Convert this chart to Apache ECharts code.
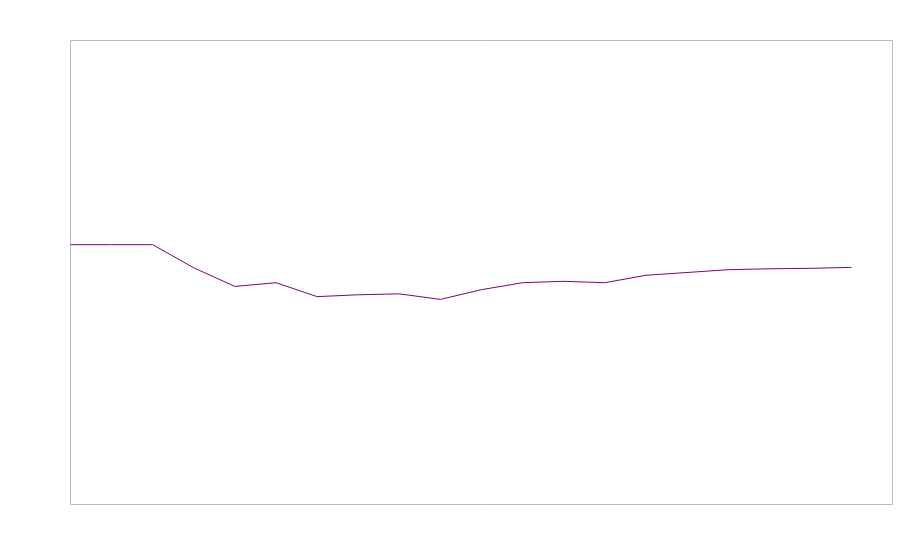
<!DOCTYPE html>
<html>
<head>
<meta charset="utf-8">
<script src="https://cdn.jsdelivr.net/npm/echarts@6/dist/echarts.min.js"></script>
<style>html,body{margin:0;padding:0;background:#fff}#c{width:900px;height:560px}</style>
</head>
<body>
<div id="c"></div>
<script>
const categories = ['1','2','3','4','5','6','7','8','9','10','11','12','13','14','15','16','17','18','19','20','21'];
const values = [56.0, 56.0, 56.0, 51.0, 47.0, 47.8, 44.8, 45.2, 45.4, 44.2, 46.3, 47.8, 48.1, 47.8, 49.4, 50.0, 50.6, 50.8, 50.9, 51.1];
const yMin = 0;
const yMax = 100;

const chart = echarts.init(document.getElementById('c'), null, {renderer: 'canvas'});
chart.setOption({
  animation: false,
  backgroundColor: '#ffffff',
  grid: {left: 70.5, right: 7.5, top: 40.5, bottom: 55.5, show: true, borderColor: '#bbbbbb', borderWidth: 1, backgroundColor: 'transparent'},
  xAxis: {type: 'category', data: categories, boundaryGap: false, show: false},
  yAxis: {type: 'value', min: yMin, max: yMax, show: false},
  series: [{
    type: 'line',
    data: values,
    showSymbol: false,
    symbol: 'none',
    lineStyle: {color: '#800080', width: 1},
    itemStyle: {color: '#800080'}
  }]
});
</script>
</body>
</html>
